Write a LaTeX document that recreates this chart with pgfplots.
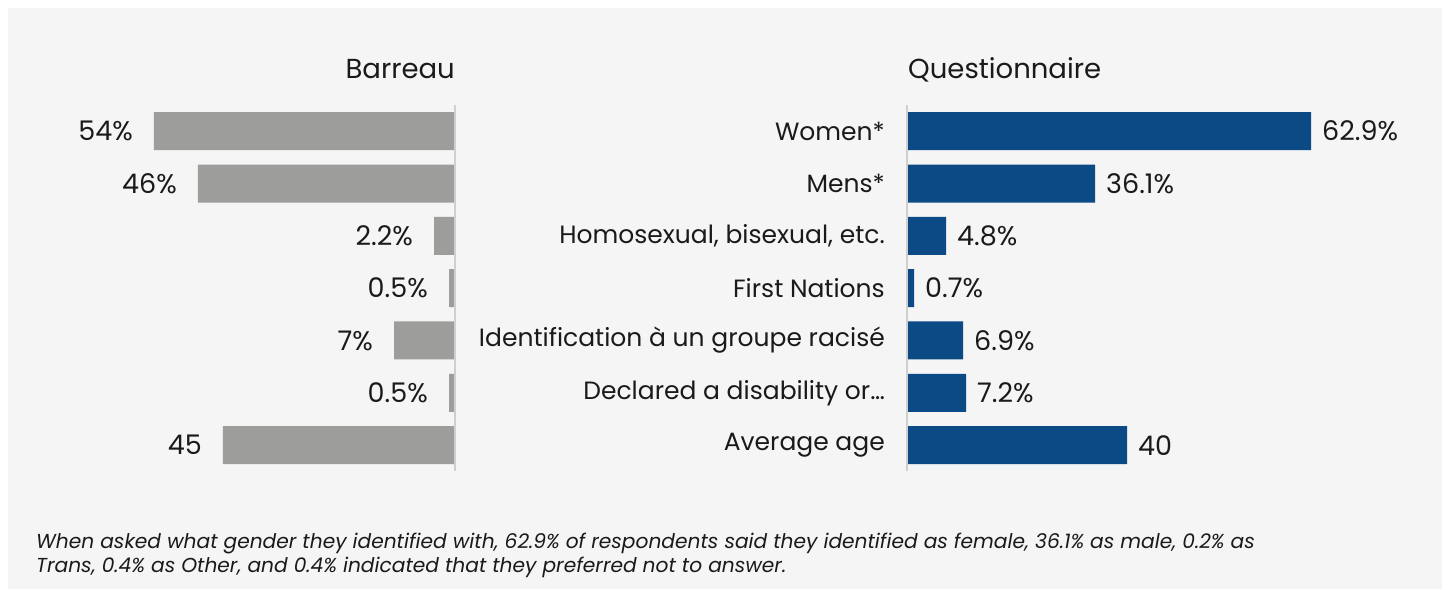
\documentclass[border=0pt]{standalone}
\usepackage{pgfplots}
\pgfplotsset{compat=1.18}
\usepackage{fontspec}
\setmainfont{Poppins}
\definecolor{bg}{HTML}{F5F5F5}
\definecolor{bargray}{HTML}{9D9D9C}
\definecolor{navy}{HTML}{0C4A85}
\definecolor{axisgray}{HTML}{CFCFCF}
\definecolor{txt}{HTML}{1A1A1A}
\newcommand{\bigf}{\fontsize{25}{30}\selectfont}
\newcommand{\valf}{\fontsize{27}{32}\selectfont}
\newcommand{\titf}{\fontsize{27.5}{33}\selectfont}
\newcommand{\smallf}{\fontsize{20.2}{24}\selectfont}
% bar lengths as drawn in the reference (pt), with their printed labels
\pgfplotstableread{
row len lab
1 301 54\%
2 257 46\%
3 21 2.2\%
4 6 0.5\%
5 61 7\%
6 6 0.5\%
7 232 45
}\barreau
\pgfplotstableread{
row len lab
1 404 62.9\%
2 188 36.1\%
3 39 4.8\%
4 7 0.7\%
5 56 6.9\%
6 59 7.2\%
7 220 40
}\questionnaire
\begin{document}
\begin{tikzpicture}[x=1pt,y=1pt]
\useasboundingbox (0,0) rectangle (1448,-589);
\fill[white] (0,0) rectangle (1448,-589);
\fill[bg] (8,-8) rectangle (1442,-589);
\begin{axis}[
  at={(455pt,-105pt)}, anchor=north east,
  x=1pt, y=52.33pt, x dir=reverse, y dir=reverse,
  xmin=0, xmax=310, ymin=0.5, ymax=7.5,
  hide axis, clip=false,
]
\addplot[xbar, bar width=38pt, fill=bargray, draw=none,
  point meta=explicit symbolic, nodes near coords,
  every node near coord/.append style={font=\valf, text=txt, anchor=east, inner sep=0pt, xshift=-21pt}]
  table[x=len, y=row, meta=lab] {\barreau};
\draw[axisgray, line width=2pt] (axis cs:0,0.5) -- (axis cs:0,7.5);
\end{axis}
\begin{axis}[
  at={(907pt,-105pt)}, anchor=north west,
  x=1pt, y=52.33pt, y dir=reverse,
  xmin=0, xmax=500, ymin=0.5, ymax=7.5,
  axis line style={draw=none}, major tick length=0pt,
  xtick=\empty, ytick={1,2,3,4,5,6,7},
  yticklabels={Women*, Mens*, {Homosexual, bisexual, etc.}, First Nations, Identification à un groupe racisé, Declared a disability or…, Average age},
  yticklabel style={font=\bigf, text=txt, inner sep=0pt, xshift=-22pt},
  clip=false,
]
\addplot[xbar, bar width=38pt, fill=navy, draw=none,
  point meta=explicit symbolic, nodes near coords,
  every node near coord/.append style={font=\valf, text=txt, anchor=west, inner sep=0pt, xshift=11pt}]
  table[x=len, y=row, meta=lab] {\questionnaire};
\draw[axisgray, line width=2pt] (axis cs:0,0.5) -- (axis cs:0,7.5);
\end{axis}
\node[anchor=base east, font=\titf, text=txt, inner sep=0pt] at (455,-78) {Barreau};
\node[anchor=base west, font=\titf, text=txt, inner sep=0pt] at (908,-78) {Questionnaire};
\node[anchor=base west, font=\itshape\smallf, text=txt, inner sep=0pt] at (36,-548) {When asked what gender they identified with, 62.9\% of respondents said they identified as female, 36.1\% as male, 0.2\% as};
\node[anchor=base west, font=\itshape\smallf, text=txt, inner sep=0pt] at (36,-572) {Trans, 0.4\% as Other, and 0.4\% indicated that they preferred not to answer.};
\end{tikzpicture}
\end{document}
